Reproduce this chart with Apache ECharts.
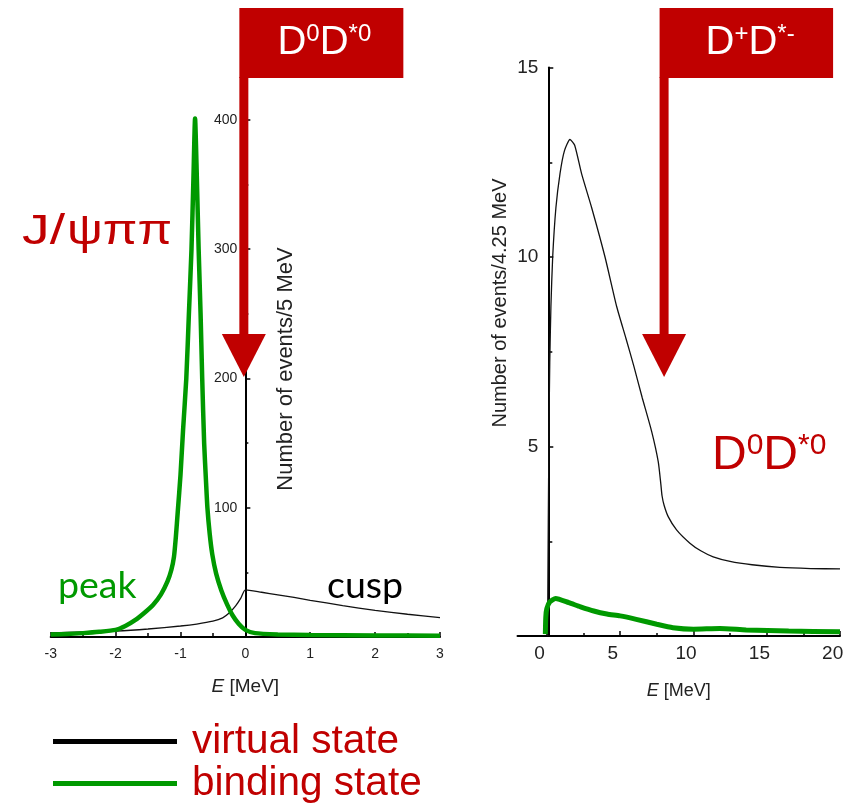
<!DOCTYPE html>
<html>
<head>
<meta charset="utf-8">
<script src="https://cdn.jsdelivr.net/npm/echarts@6/dist/echarts.min.js"></script>
<style>
  html, body { margin: 0; padding: 0; background: #ffffff; }
  #chart { width: 854px; height: 803px; }
</style>
</head>
<body>
<div id="chart"></div>
<script>
// Left panel: J/psi pi pi line shape near the D0 D*0 threshold, E in MeV
const leftVirtual = [
  [-3.0, 3.2], [-2.5, 3.9], [-2.0, 4.6], [-1.5, 6.2], [-1.0, 8.5], [-0.75, 10.0],
  [-0.5, 12.2], [-0.35, 14.8], [-0.25, 18.5], [-0.15, 24], [-0.07, 30], [0.0, 36.5],
  [0.25, 34.6], [0.5, 32.6], [0.75, 30.6], [1.0, 28.4], [1.5, 24.3], [2.0, 20.6],
  [2.5, 17.6], [3.0, 15.0]
];
const leftBinding = [
  [-3.0, 2.0], [-2.75, 2.3], [-2.5, 3.0], [-2.25, 4.0], [-2.0, 5.5], [-1.85, 8.5],
  [-1.7, 13], [-1.55, 19], [-1.42, 25], [-1.3, 33], [-1.2, 43], [-1.14, 52],
  [-1.1, 62], [-1.07, 78], [-1.04, 98], [-1.0, 125], [-0.96, 160], [-0.91, 200],
  [-0.87, 250], [-0.83, 300], [-0.8, 355], [-0.775, 401], [-0.75, 360], [-0.72, 300],
  [-0.69, 250], [-0.665, 200], [-0.635, 150], [-0.605, 119], [-0.585, 100], [-0.55, 80],
  [-0.51, 64], [-0.45, 49], [-0.37, 36], [-0.28, 25], [-0.2, 17], [-0.1, 10],
  [0.0, 5.5], [0.15, 3.0], [0.5, 2.0], [1.0, 1.5], [2.0, 1.2], [3.0, 1.0]
];

// Right panel: D0 D*0 spectrum, E in MeV
const rightVirtual = [
  [0.55, 0], [0.6, 3.0], [0.65, 5.5], [0.7, 7.2], [0.78, 8.7], [0.9, 10.0],
  [1.12, 11.3], [1.4, 12.2], [1.7, 12.8], [2.08, 13.1], [2.4, 12.95], [2.87, 12.2],
  [3.56, 11.3], [4.47, 10.0], [5.26, 8.7], [5.9, 7.85], [6.45, 7.1], [7.0, 6.3],
  [7.65, 5.4], [8.1, 4.6], [8.28, 4.0], [8.36, 3.7], [8.5, 3.45], [8.78, 3.15],
  [9.35, 2.8], [10.26, 2.45], [11.0, 2.25], [11.85, 2.09], [13.0, 1.97], [14.5, 1.88],
  [16.4, 1.81], [18.5, 1.78], [20.5, 1.77]
];
const rightBinding = [
  [0.4, 0.05], [0.43, 0.5], [0.5, 0.72], [0.7, 0.9], [1.1, 0.99], [2.0, 0.88],
  [2.8, 0.77], [3.7, 0.66], [4.6, 0.58], [5.5, 0.53], [6.6, 0.44], [8.0, 0.31],
  [9.1, 0.22], [10.5, 0.18], [12.3, 0.2], [14.1, 0.16], [17.0, 0.13], [20.5, 0.11]
];

// Axis ticks and labels of the right panel
const rightXLabels = [0, 5, 10, 15, 20];
const rightXMajorTicks = [0.5, 5.5, 10.5, 15.5, 20.5];
const rightXMinorTicks = [3, 8, 13, 18];

// Energies the threshold arrows point at
const thresholdLeftE = 0;
const thresholdRightE = 8.5;

const RED = '#c00000';
const GREEN = '#009900';
const INK = '#111111';
const SANS = '"Liberation Sans", Arial, sans-serif';

const chart = echarts.init(document.getElementById('chart'), null, { renderer: 'canvas' });

const axisLineStyle = { color: '#000', width: 2 };
const tickStyle = { color: '#000', width: 1.5 };
const italic = { fontStyle: 'italic', fontFamily: SANS, color: '#222' };

// Left panel plot area
const leftGrid = { left: 50.7, right: 414, top: 68, bottom: 166 };
// Pixel position of E = 0 in the left panel, where its count axis stands
const leftZeroX = leftGrid.left + (854 - leftGrid.right - leftGrid.left) / 2;

const option = {
  animation: false,
  backgroundColor: '#ffffff',
  grid: [
    leftGrid,
    { left: 517.5, right: 14, top: 67.5, bottom: 167 },
    { left: 548.3, width: 10, top: 67.5, bottom: 167 },
    { left: leftZeroX, width: 10, top: 68, bottom: 166 }
  ],
  xAxis: [
    {
      gridIndex: 0, type: 'value', min: -3, max: 3, interval: 1,
      axisLine: { onZero: false, lineStyle: axisLineStyle },
      axisTick: { inside: true, length: 5, lineStyle: tickStyle },
      minorTick: { show: true, splitNumber: 2, length: 4, lineStyle: tickStyle },
      splitLine: { show: false },
      axisLabel: { fontSize: 14, color: '#222', margin: 10, fontFamily: SANS },
      name: '{i|E} [MeV]', nameLocation: 'middle', nameGap: 40,
      nameTextStyle: { fontSize: 19, color: '#222', fontFamily: SANS,
        rich: { i: Object.assign({ fontSize: 19 }, italic) } }
    },
    {
      gridIndex: 1, type: 'value', min: -1.5, max: 20.5, position: 'bottom',
      axisLine: { onZero: false, lineStyle: axisLineStyle },
      axisTick: { inside: true, length: 5, lineStyle: tickStyle, customValues: rightXMajorTicks },
      splitLine: { show: false },
      axisLabel: { fontSize: 19, color: '#222', margin: 8, fontFamily: SANS, customValues: rightXLabels },
      name: '{i|E} [MeV]', nameLocation: 'middle', nameGap: 46,
      nameTextStyle: { fontSize: 18, color: '#222', fontFamily: SANS,
        rich: { i: Object.assign({ fontSize: 18 }, italic) } }
    },
    {
      gridIndex: 1, type: 'value', min: -1.5, max: 20.5, position: 'bottom',
      axisLine: { show: false, onZero: false },
      axisTick: { show: true, inside: true, length: 3, lineStyle: tickStyle, customValues: rightXMinorTicks },
      axisLabel: { show: false },
      splitLine: { show: false }
    },
    { gridIndex: 2, type: 'value', min: 0, max: 1, show: false },
    { gridIndex: 3, type: 'value', min: 0, max: 1, show: false }
  ],
  yAxis: [
    { gridIndex: 0, type: 'value', min: 0, max: 440, show: false },
    { gridIndex: 1, type: 'value', min: 0, max: 15, show: false },
    {
      gridIndex: 2, type: 'value', min: 0, max: 15, interval: 5,
      axisLine: { show: true, onZero: false, lineStyle: axisLineStyle },
      axisTick: { show: true, inside: true, length: 5, lineStyle: tickStyle },
      minorTick: { show: true, splitNumber: 2, length: 4, lineStyle: tickStyle },
      splitLine: { show: false },
      axisLabel: { fontSize: 19, color: '#222', margin: 10, fontFamily: SANS, showMinLabel: false }
    },
    {
      gridIndex: 3, type: 'value', min: 0, max: 440, interval: 100,
      axisLine: { show: true, onZero: false, lineStyle: axisLineStyle },
      axisTick: { show: true, inside: true, length: 5, lineStyle: tickStyle },
      minorTick: { show: true, splitNumber: 2, length: 3, lineStyle: tickStyle },
      splitLine: { show: false },
      axisLabel: { fontSize: 14, color: '#222', margin: 8, fontFamily: SANS,
        showMinLabel: false, showMaxLabel: false }
    }
  ],
  legend: {
    data: ['virtual state', 'binding state'],
    orient: 'vertical', left: 53, top: 721, height: 86, padding: 0,
    icon: 'rect', itemWidth: 124, itemHeight: 5, itemGap: 1,
    selectedMode: false,
    textStyle: { color: RED, fontSize: 40.5, lineHeight: 34, fontFamily: SANS, padding: [0, 0, 7, 10] }
  },
  series: [
    {
      type: 'line', name: 'virtual state', xAxisIndex: 0, yAxisIndex: 0,
      data: leftVirtual, symbol: 'none', smooth: 0.2,
      lineStyle: { color: INK, width: 1.3 }, itemStyle: { color: '#000' }, z: 2
    },
    {
      type: 'line', name: 'binding state', xAxisIndex: 0, yAxisIndex: 0,
      data: leftBinding, symbol: 'none', smooth: 0.2,
      lineStyle: { color: GREEN, width: 4.5 }, itemStyle: { color: GREEN }, z: 3
    },
    {
      type: 'line', name: 'virtual state', xAxisIndex: 1, yAxisIndex: 1,
      data: rightVirtual, symbol: 'none', smooth: 0.2,
      lineStyle: { color: INK, width: 1.3 }, itemStyle: { color: '#000' }, z: 2
    },
    {
      type: 'line', name: 'binding state', xAxisIndex: 1, yAxisIndex: 1,
      data: rightBinding, symbol: 'none', smooth: 0.2,
      lineStyle: { color: GREEN, width: 5 }, itemStyle: { color: GREEN }, z: 3
    }
  ]
};

chart.setOption(option);

// Threshold flag with a downward arrow, centred on the shaft at cx
function flag(cx, flagWidth, textOffset, richText) {
  const shaftHalf = 4.5, flagTop = 8, flagBottom = 78, headTop = 334, tip = 377, headHalf = 22;
  return [
    { type: 'rect', z: 100, shape: { x: cx - shaftHalf, y: flagTop, width: flagWidth, height: flagBottom - flagTop },
      style: { fill: RED } },
    { type: 'rect', z: 100, shape: { x: cx - shaftHalf, y: flagBottom - 1, width: shaftHalf * 2, height: headTop - flagBottom + 2 },
      style: { fill: RED } },
    { type: 'polygon', z: 100, shape: { points: [[cx - headHalf, headTop], [cx + headHalf, headTop], [cx, tip]] },
      style: { fill: RED } },
    { type: 'text', z: 101, x: cx + textOffset, y: 43,
      style: {
        text: richText, fill: '#fff', align: 'center', verticalAlign: 'middle',
        textAlign: 'center', textVerticalAlign: 'middle',
        rich: {
          b: { fontSize: 40, lineHeight: 42, fontFamily: SANS, fill: '#fff', color: '#fff' },
          s: { fontSize: 24, lineHeight: 26, fontFamily: SANS, fill: '#fff', color: '#fff', verticalAlign: 'top' }
        }
      } }
  ];
}

const leftPx = chart.convertToPixel({ gridIndex: 0 }, [thresholdLeftE, 0]);
const rightPx = chart.convertToPixel({ gridIndex: 1 }, [thresholdRightE, 0]);

function label(x, y, text, size, color, family, extra) {
  return Object.assign({
    type: 'text', z: 90, x: x, y: y,
    style: {
      text: text, fill: color, fontSize: size, fontFamily: family,
      align: 'left', verticalAlign: 'middle', textAlign: 'left', textVerticalAlign: 'middle'
    }
  }, extra || {});
}

function yName(x, y, text, size) {
  return {
    type: 'text', z: 90, x: x, y: y, rotation: Math.PI / 2,
    style: {
      text: text, fill: '#222', fontSize: size, fontFamily: SANS,
      align: 'center', verticalAlign: 'middle', textAlign: 'center', textVerticalAlign: 'middle'
    }
  };
}

// The channel name is set wide: stretch each part to its span
const measure = document.createElement('canvas').getContext('2d');
measure.font = '42px "Liberation Sans"';
const jScale = 43 / measure.measureText('J/').width;
const greekScale = 105 / measure.measureText('ψππ').width;

chart.setOption({
  graphic: [
    ...flag(leftPx[0] - 1.5, 164, 80.5, '{b|D}{s|0}{b|D}{s|*0}'),
    ...flag(rightPx[0], 173.5, 86, '{b|D}{s|+}{b|D}{s|*-}'),
    label(22, 232, 'J/', 42, RED, SANS, { scaleX: jScale }),
    label(67, 232, 'ψππ', 42, RED, SANS, { scaleX: greekScale }),
    label(58, 586, 'peak', 37.5, GREEN, 'Lato, sans-serif'),
    label(327, 586, 'cusp', 37.5, '#000', 'Lato, sans-serif'),
    {
      type: 'text', z: 90, x: 712, y: 456,
      style: {
        text: '{b|D}{s|0}{b|D}{s|*0}', fill: RED,
        align: 'left', verticalAlign: 'middle', textAlign: 'left', textVerticalAlign: 'middle',
        rich: {
          b: { fontSize: 48, lineHeight: 50, fontFamily: SANS, fill: RED, color: RED },
          s: { fontSize: 30, lineHeight: 30, fontFamily: SANS, fill: RED, color: RED, verticalAlign: 'top' }
        }
      }
    },
    yName(286, 369, 'Number of events/5 MeV', 22),
    yName(500, 303, 'Number of events/4.25 MeV', 20)
  ]
});
</script>
</body>
</html>
